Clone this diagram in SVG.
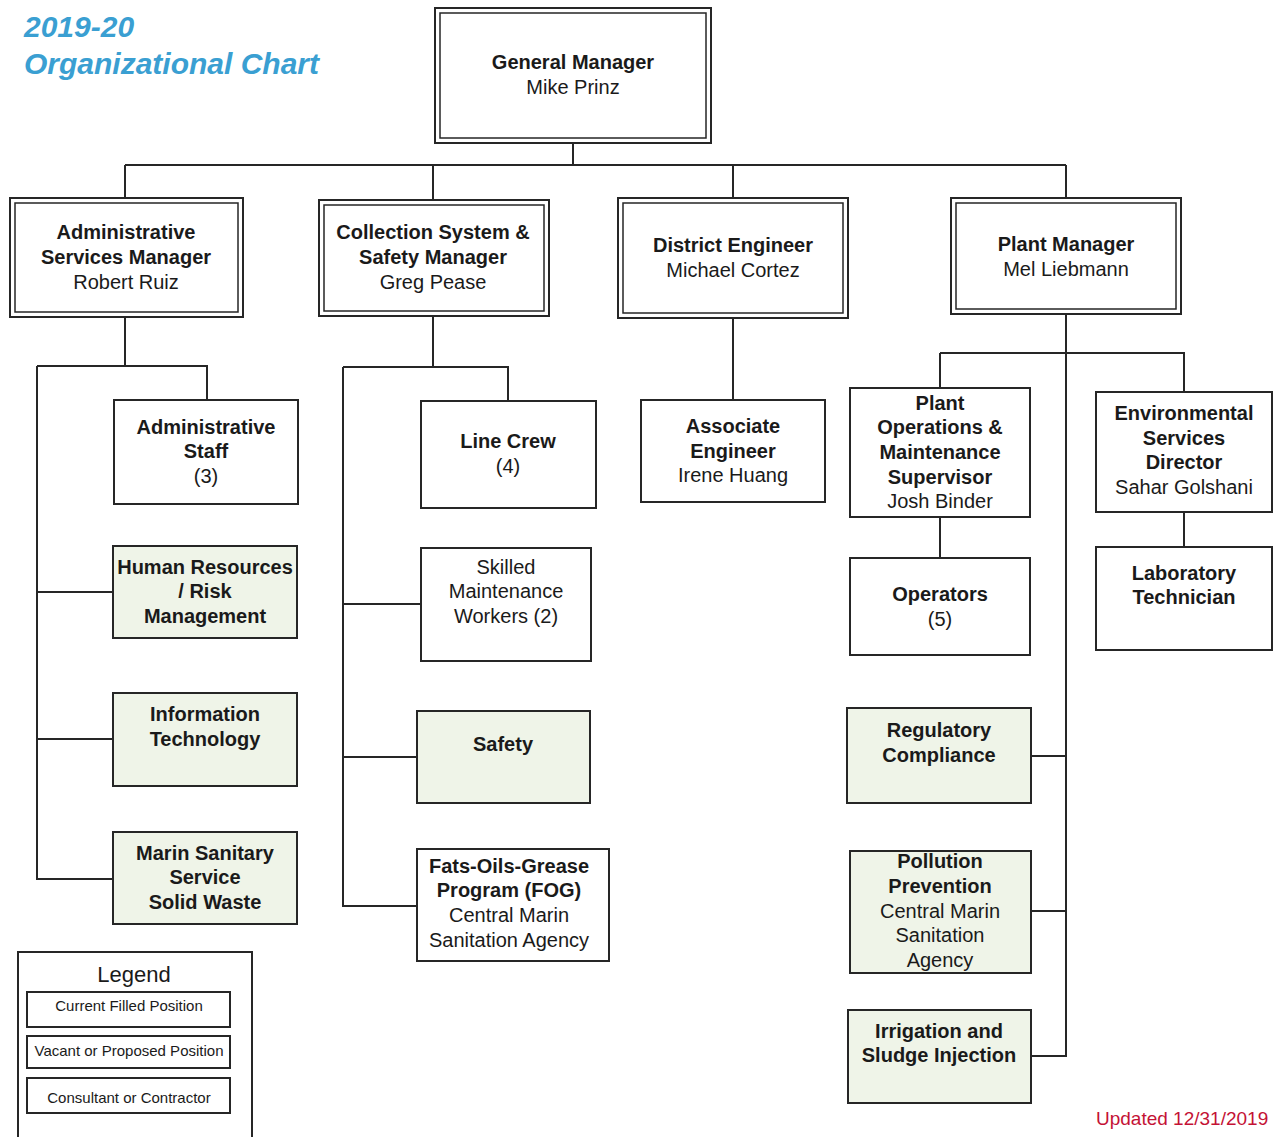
<svg xmlns="http://www.w3.org/2000/svg" width="1274" height="1137" viewBox="0 0 1274 1137">
<style>
text{font-family:"Liberation Sans",Arial,sans-serif;font-size:20px;fill:#1a1a1a;text-anchor:middle}
.b{font-weight:bold}
.box{fill:#fff;stroke:#262626;stroke-width:2}
.g{fill:#eff4e8}
.in{fill:none;stroke:#262626;stroke-width:1.5}
.c{fill:none;stroke:#262626;stroke-width:2}
.title{font-size:30px;font-weight:bold;font-style:italic;fill:#3a9fd2;text-anchor:start}
.lg{font-size:15px}
</style>
<rect width="1274" height="1137" fill="#fff"/>
<text class="title" x="24" y="37">2019-20</text>
<text class="title" x="24" y="74">Organizational Chart</text>
<g id="connectors">
<path class="c" d="M573 143V165M125 165H1066M125 165V198M433 165V200M733 165V198M1066 165V198"/>
<path class="c" d="M125 317V366M37 366H207V400M37 366V879H113M37 592H113M37 739H113"/>
<path class="c" d="M433 316V367M343 367H508V401M343 367V906H417M343 604H421M343 757H417"/>
<path class="c" d="M733 318V400"/>
<path class="c" d="M1066 314V1056H1031M940 353H1184V392M940 353V388M940 517V558M1184 512V547M1031 756H1066M1031 911H1066"/>
</g>
<g id="gm"><rect class="box" x="435" y="8" width="276" height="135"/><rect class="in" x="440" y="13" width="266" height="125"/><text class="b" x="573" y="69">General Manager</text><text x="573" y="94">Mike Prinz</text></g>
<g id="asm"><rect class="box" x="10" y="198" width="233" height="119"/><rect class="in" x="15" y="203" width="223" height="109"/><text class="b" x="126" y="239">Administrative</text><text class="b" x="126" y="264">Services Manager</text><text x="126" y="289">Robert Ruiz</text></g>
<g id="csm"><rect class="box" x="319" y="200" width="230" height="116"/><rect class="in" x="324" y="205" width="220" height="106"/><text class="b" x="433" y="239">Collection System &amp;</text><text class="b" x="433" y="264">Safety Manager</text><text x="433" y="289">Greg Pease</text></g>
<g id="de"><rect class="box" x="618" y="198" width="230" height="120"/><rect class="in" x="623" y="203" width="220" height="110"/><text class="b" x="733" y="252">District Engineer</text><text x="733" y="277">Michael Cortez</text></g>
<g id="pm"><rect class="box" x="951" y="198" width="230" height="116"/><rect class="in" x="956" y="203" width="220" height="106"/><text class="b" x="1066" y="251">Plant Manager</text><text x="1066" y="276">Mel Liebmann</text></g>
<g id="as"><rect class="box" x="114" y="400" width="184" height="104"/><text class="b" x="206" y="434">Administrative</text><text class="b" x="206" y="458">Staff</text><text x="206" y="483">(3)</text></g>
<g id="hr"><rect class="box g" x="113" y="546" width="184" height="92"/><text class="b" x="205" y="574">Human Resources</text><text class="b" x="205" y="598">/ Risk</text><text class="b" x="205" y="623">Management</text></g>
<g id="it"><rect class="box g" x="113" y="693" width="184" height="93"/><text class="b" x="205" y="721">Information</text><text class="b" x="205" y="746">Technology</text></g>
<g id="mss"><rect class="box g" x="113" y="832" width="184" height="92"/><text class="b" x="205" y="860">Marin Sanitary</text><text class="b" x="205" y="884">Service</text><text class="b" x="205" y="909">Solid Waste</text></g>
<g id="lc"><rect class="box" x="421" y="401" width="175" height="107"/><text class="b" x="508" y="448">Line Crew</text><text x="508" y="473">(4)</text></g>
<g id="smw"><rect class="box" x="421" y="548" width="170" height="113"/><text x="506" y="574">Skilled</text><text x="506" y="598">Maintenance</text><text x="506" y="623">Workers (2)</text></g>
<g id="safety"><rect class="box g" x="417" y="711" width="173" height="92"/><text class="b" x="503" y="751">Safety</text></g>
<g id="fog"><rect class="box" x="417" y="849" width="192" height="112"/><text class="b" x="509" y="873">Fats-Oils-Grease</text><text class="b" x="509" y="897">Program (FOG)</text><text x="509" y="922">Central Marin</text><text x="509" y="947">Sanitation Agency</text></g>
<g id="ae"><rect class="box" x="641" y="400" width="184" height="102"/><text class="b" x="733" y="433">Associate</text><text class="b" x="733" y="458">Engineer</text><text x="733" y="482">Irene Huang</text></g>
<g id="pom"><rect class="box" x="850" y="388" width="180" height="129"/><text class="b" x="940" y="410">Plant</text><text class="b" x="940" y="434">Operations &amp;</text><text class="b" x="940" y="459">Maintenance</text><text class="b" x="940" y="484">Supervisor</text><text x="940" y="508">Josh Binder</text></g>
<g id="ops"><rect class="box" x="850" y="558" width="180" height="97"/><text class="b" x="940" y="601">Operators</text><text x="940" y="626">(5)</text></g>
<g id="esd"><rect class="box" x="1096" y="392" width="176" height="120"/><text class="b" x="1184" y="420">Environmental</text><text class="b" x="1184" y="445">Services</text><text class="b" x="1184" y="469">Director</text><text x="1184" y="494">Sahar Golshani</text></g>
<g id="lab"><rect class="box" x="1096" y="547" width="176" height="103"/><text class="b" x="1184" y="580">Laboratory</text><text class="b" x="1184" y="604">Technician</text></g>
<g id="rc"><rect class="box g" x="847" y="708" width="184" height="95"/><text class="b" x="939" y="737">Regulatory</text><text class="b" x="939" y="762">Compliance</text></g>
<g id="pp"><rect class="box g" x="850" y="851" width="181" height="122"/><text class="b" x="940" y="868">Pollution</text><text class="b" x="940" y="893">Prevention</text><text x="940" y="918">Central Marin</text><text x="940" y="942">Sanitation</text><text x="940" y="967">Agency</text></g>
<g id="irr"><rect class="box g" x="848" y="1010" width="183" height="93"/><text class="b" x="939" y="1038">Irrigation and</text><text class="b" x="939" y="1062">Sludge Injection</text></g>
<g id="legend"><rect class="box" x="18" y="952" width="234" height="190"/><text x="134" y="982" style="font-size:22px">Legend</text>
<rect class="box" x="27" y="992" width="203" height="35"/><text class="lg" x="129" y="1011">Current Filled Position</text>
<rect class="box" x="27" y="1036" width="203" height="32"/><text class="lg" x="129" y="1056">Vacant or Proposed Position</text>
<rect class="box" x="27" y="1078" width="203" height="35"/><text class="lg" x="129" y="1103">Consultant or Contractor</text></g>
<text x="1096" y="1125" style="font-size:19px;fill:#c41235;text-anchor:start">Updated 12/31/2019</text>
</svg>
